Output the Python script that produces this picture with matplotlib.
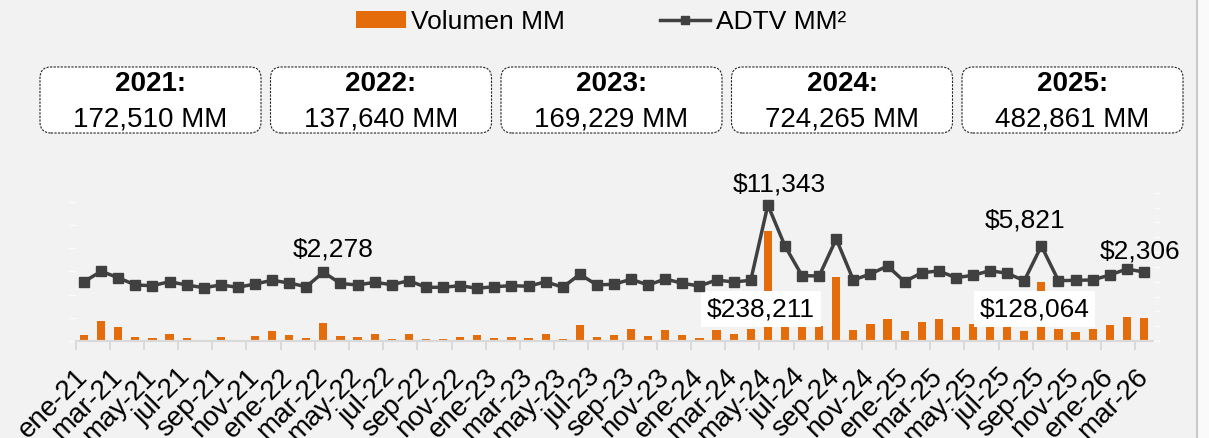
import numpy as np
import matplotlib.pyplot as plt
from matplotlib.patches import FancyBboxPatch, Patch, Rectangle
from matplotlib.lines import Line2D

plt.rcParams['font.family'] = ['Liberation Sans', 'DejaVu Sans']

# meses ene-21 .. mar-26
meses = ['ene', 'feb', 'mar', 'abr', 'may', 'jun', 'jul', 'ago', 'sep', 'oct', 'nov', 'dic']
labels = [f'{m}-{a}' for a in range(21, 27) for m in meses][:63]

# volumen mensual (MM)
volumen = [13000, 42800, 30600, 8800, 6800, 15800, 6700, 3100, 8800, 3100, 11000, 22010,
           12200, 5900, 38300, 11100, 8400, 14100, 4800, 14100, 4200, 4200, 8400, 11940,
           6300, 8400, 7000, 14700, 4200, 33800, 9000, 12900, 25700, 10100, 24800, 12329,
           6900, 23200, 16100, 25300, 238211, 70000, 65000, 33000, 138500, 24700, 36900, 46454,
           21500, 41400, 47200, 30100, 37600, 41300, 42000, 21500, 128064, 26400, 20000, 25797,
           35000, 51500, 48700]

# ADTV (MM)
adtv = [998, 2400, 1538, 553, 459, 998, 553, 189, 553, 243, 688, 1187,
        823, 324, 2278, 755, 553, 917, 594, 1133, 243, 243, 459, 108,
        324, 459, 378, 998, 243, 1997, 553, 661, 1322, 553, 1362, 782,
        418, 1228, 958, 1187, 11343, 5814, 1808, 1767, 6758, 1228, 2037, 3116,
        998, 2212, 2442, 1538, 1862, 2482, 2131, 1133, 5821, 1133, 1187, 1228,
        1902, 2711, 2306]

anios = ['2021:', '2022:', '2023:', '2024:', '2025:']
totales = ['172,510 MM', '137,640 MM', '169,229 MM', '724,265 MM', '482,861 MM']

etiq_vol = [40, 56]
etiq_adtv = {14: (10, 23), 40: (11, 20), 56: (-16, 25), 62: (-4, 20)}

naranja = '#e46c0a'
gris = '#404040'

W, H = 1209, 438
fig = plt.figure(figsize=(W / 100, H / 100), dpi=100)
fig.patch.set_facecolor('#f2f2f2')

# borde derecho del marco
fig.add_artist(Rectangle((1197 / W, 0), 1 - 1197 / W, 1, transform=fig.transFigure,
                         facecolor='#fafafa', edgecolor='none'))
fig.add_artist(Line2D([1197 / W] * 2, [0, 1], transform=fig.transFigure, color='#c8c8c8', lw=1.5))

ax = fig.add_axes([75.5 / W, 1 - 341 / H, (1152.5 - 75.5) / W, (341 - 192.7) / H])
ax.set_facecolor('none')
x = np.arange(len(labels))
ax.bar(x, volumen, width=0.48, color=naranja, zorder=2)
ax.set_xlim(-0.5, len(labels) - 0.5)
ax.set_ylim(0, 320000)
ax.set_yticks(np.arange(0, 300001, 50000))
ax.tick_params(axis='y', length=5, width=1, color='#fbfbfb', labelleft=False)
for s in ['top', 'right', 'left']:
    ax.spines[s].set_visible(False)
ax.spines['bottom'].set_color('#d9d9d9')
ax.spines['bottom'].set_linewidth(1.6)

ax.set_xticks(x[::2])
ax.set_xticklabels(labels[::2], rotation=45, ha='right', va='center',
                   rotation_mode='anchor', fontsize=20)
ax.tick_params(axis='x', which='major', length=0, pad=23)
ax.set_xticks(np.arange(-0.5, len(labels), 2), minor=True)
ax.tick_params(axis='x', which='minor', length=6.5, width=1.4, color='#d9d9d9')

for i in etiq_vol:
    ax.text(i - 0.4, 69000, f'${volumen[i]:,}', ha='center', va='center', fontsize=19,
            zorder=5, bbox=dict(boxstyle='square,pad=0.22', facecolor='white', edgecolor='none'))

ax2 = ax.twinx()
ax2.plot(x, adtv, color=gris, lw=2.5, marker='s', ms=7, zorder=3)
ax2.set_ylim(-7000, 13000)
ax2.set_yticks(np.arange(-7000, 13001, 2000))
ax2.tick_params(axis='y', length=5, width=1, color='#fbfbfb', labelright=False)
for s in ax2.spines.values():
    s.set_visible(False)

for i, (dx, dy) in etiq_adtv.items():
    ax2.annotate(f'${adtv[i]:,}', (x[i], adtv[i]), xytext=(dx * 0.72, dy * 0.72),
                 textcoords='offset points', ha='center', va='center', fontsize=19)

# leyenda
handles = [Patch(facecolor=naranja, edgecolor='none', label='Volumen MM'),
           Line2D([], [], color=gris, lw=2.5, marker='s', ms=5.5, label='ADTV MM²')]
fig.legend(handles=handles, loc='center', bbox_to_anchor=(0.497, 1 - 22 / H), ncol=2,
           frameon=False, fontsize=19, handlelength=1.9, handleheight=0.6,
           handletextpad=0.2, columnspacing=3.6)

# cajas con totales anuales
for k, (a, t) in enumerate(zip(anios, totales)):
    x0 = 40 + k * 230.5
    caja = FancyBboxPatch((x0 / W, 1 - 133 / H), 221 / W, 66 / H,
                          boxstyle='round,pad=0,rounding_size=0.009',
                          transform=fig.transFigure, facecolor='white', edgecolor='#222222',
                          lw=0.8, linestyle=(0, (2, 1.2)), mutation_aspect=W / H)
    fig.add_artist(caja)
    cx = (x0 + 110.5) / W
    fig.text(cx, 1 - 84 / H, a, ha='center', va='center', fontsize=20, fontweight='bold')
    fig.text(cx, 1 - 119 / H, t, ha='center', va='center', fontsize=20)

fig.savefig('out.png', dpi=100, facecolor=fig.get_facecolor())
